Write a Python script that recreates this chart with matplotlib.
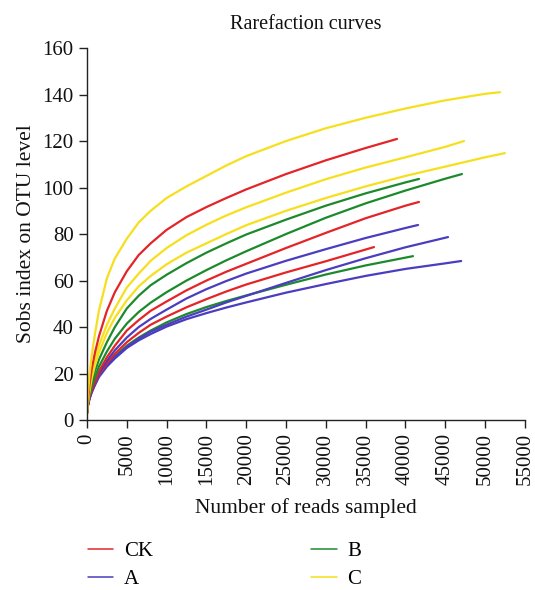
import matplotlib
matplotlib.use("Agg")
import matplotlib.pyplot as plt
import numpy as np

# reads sampled vs observed OTUs (Sobs), three replicates per treatment
grid = [0, 100, 300, 600, 1000, 1500, 2500, 3500, 5000, 6500, 8000, 10000, 12500,
        15000, 17500, 20000, 25000, 30000, 35000, 40000, 45000, 50000]

reads_c1 = grid[:22] + [51880]
sobs_c1 = [3, 10, 19, 28, 37, 47, 61, 69.5, 78, 85, 90, 95.5, 100.5,
           105, 109.5, 113.5, 120, 125.5, 130, 134, 137.5, 140.3, 141]

reads_ck1 = grid[:19] + [38940]
sobs_ck1 = [3, 8, 15, 22, 29, 36, 47, 55, 64, 71, 76, 81.8, 87.3,
            91.6, 95.5, 99.2, 105.8, 111.7, 117, 120.9]

reads_c2 = grid[:21] + [47360]
sobs_c2 = [3, 8, 14, 20, 26, 32, 41, 48, 57, 63, 68.5, 74, 79.5,
           84, 88, 91.5, 97.8, 103.6, 108.6, 113, 117.5, 120]

reads_c3 = grid[:22] + [52500]
sobs_c3 = [3, 7, 12, 18, 23.5, 29, 37.5, 44, 51.5, 57.5, 62, 67, 72,
           76, 80, 83.8, 90, 95.5, 100.5, 105, 109, 113, 114.8]

reads_b1 = grid[:20] + [41700]
sobs_b1 = [3, 7, 11.5, 16, 21, 26, 33.5, 40, 48, 53.5, 58, 62.5, 67.5,
           72, 76, 79.8, 86.2, 92.2, 97.5, 102.2, 103.7]

reads_b2 = grid[:21] + [47100]
sobs_b2 = [3, 6.5, 10.5, 14.5, 18.5, 23, 29.5, 35, 41.5, 46.5, 50.5, 55, 60,
           64.5, 68.7, 72.6, 80, 87, 93.2, 98.7, 103.8, 105.8]

reads_ck2 = grid[:20] + [41700]
sobs_ck2 = [3, 6.5, 10, 13.5, 17, 21, 27, 32, 38.5, 43, 47, 51, 55.8,
            60, 63.8, 67.2, 74, 80.5, 86.8, 92.2, 93.8]

reads_a1 = grid[:20] + [41580]
sobs_a1 = [3, 6, 9.5, 13, 16.5, 20, 25.5, 30, 35.5, 40, 43.5, 47.5, 52.3,
           56.3, 59.8, 63, 68.5, 73.5, 78.3, 82.6, 83.9]

reads_ck3 = grid[:18] + [36050]
sobs_ck3 = [3, 6, 9.5, 12.5, 16, 19.5, 24.5, 28.5, 33.5, 37.5, 41, 44.5, 48.5,
            52, 55.3, 58.3, 63.5, 68.3, 74.4]

reads_a2 = grid[:20] + [45350]
sobs_a2 = [3, 6, 9, 12, 15.5, 19, 23.5, 27, 31.5, 35, 38, 41, 44.5,
           47.5, 50.6, 53.4, 59, 64.5, 69.6, 74.3, 78.7]

reads_b3 = grid[:19] + [40950]
sobs_b3 = [3, 6, 9.5, 12.5, 16, 19.5, 24, 27.5, 32, 35.5, 38.5, 42, 45.6,
           48.6, 51.2, 53.6, 58.2, 62.6, 66.5, 70.5]

reads_a3 = grid[:21] + [47000]
sobs_a3 = [3, 6, 9, 12, 15, 18.5, 23, 26.5, 31, 34.3, 37, 40.2, 43.4,
           46, 48.4, 50.6, 54.8, 58.5, 62, 65, 67.4, 68.4]

red = "#e42427"
green = "#1c8a2c"
blue = "#4a3dbf"
yellow = "#f6df1d"

plt.rcParams["font.family"] = ["Liberation Serif", "DejaVu Serif"]

fig = plt.figure(figsize=(5.35, 5.9), dpi=100)
ax = fig.add_axes([0.1626, 0.288, 0.8184, 0.6306])

curves = [
    (reads_a3, sobs_a3, blue, None),
    (reads_b3, sobs_b3, green, None),
    (reads_a2, sobs_a2, blue, None),
    (reads_ck3, sobs_ck3, red, None),
    (reads_a1, sobs_a1, blue, "A"),
    (reads_ck2, sobs_ck2, red, None),
    (reads_b2, sobs_b2, green, None),
    (reads_b1, sobs_b1, green, "B"),
    (reads_c3, sobs_c3, yellow, None),
    (reads_c2, sobs_c2, yellow, None),
    (reads_ck1, sobs_ck1, red, "CK"),
    (reads_c1, sobs_c1, yellow, "C"),
]
handles = {}
for x, y, c, lab in curves:
    ln, = ax.plot(x, y, color=c, lw=1.6, solid_capstyle="round", solid_joinstyle="round")
    if lab:
        handles[lab] = ln

ax.set_xlim(0, 55000)
ax.set_ylim(0, 160)
ax.set_xticks(np.arange(0, 55001, 5000))
ax.set_yticks(np.arange(0, 161, 20))
ax.tick_params(axis="x", labelrotation=90)
ax.tick_params(direction="out", length=6, width=1, colors="#222222", labelsize=15, labelcolor="#111111")
for s in ["top", "right"]:
    ax.spines[s].set_visible(False)
for s in ["left", "bottom"]:
    ax.spines[s].set_color("#222222")
    ax.spines[s].set_linewidth(1)

ax.set_title("Rarefaction curves", fontsize=14.5, color="#111111", pad=14)
ax.set_xlabel("Number of reads sampled", fontsize=15.5, color="#111111", labelpad=9)
ax.set_ylabel("Sobs index on OTU level", fontsize=15.5, color="#111111", labelpad=5)

order = ["CK", "A", "B", "C"]
leg = fig.legend([handles[k] for k in order], order, loc="upper left",
                 bbox_to_anchor=(0.145, 0.1), ncol=2, frameon=False,
                 fontsize=15, handlelength=1.22, handletextpad=0.5,
                 columnspacing=7.6, labelspacing=0.4, borderpad=0)
for ln in leg.get_lines():
    ln.set_linewidth(1.1)

fig.savefig("out.png", dpi=100)
